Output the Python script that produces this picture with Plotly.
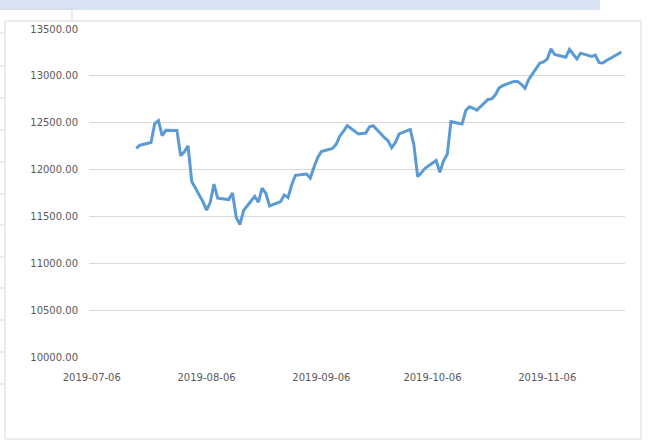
import plotly.graph_objects as go

# ---- data ----
dates = [
    "2019-07-18", "2019-07-19", "2019-07-22", "2019-07-23", "2019-07-24", "2019-07-25", "2019-07-26",
    "2019-07-29", "2019-07-30", "2019-07-31",
    "2019-08-01", "2019-08-02", "2019-08-05", "2019-08-06", "2019-08-07", "2019-08-08", "2019-08-09",
    "2019-08-12", "2019-08-13", "2019-08-14", "2019-08-15", "2019-08-16", "2019-08-19", "2019-08-20",
    "2019-08-21", "2019-08-22", "2019-08-23", "2019-08-26", "2019-08-27", "2019-08-28", "2019-08-29",
    "2019-08-30",
    "2019-09-02", "2019-09-03", "2019-09-04", "2019-09-05", "2019-09-06", "2019-09-09", "2019-09-10",
    "2019-09-11", "2019-09-12", "2019-09-13", "2019-09-16", "2019-09-17", "2019-09-18", "2019-09-19",
    "2019-09-20", "2019-09-23", "2019-09-24", "2019-09-25", "2019-09-26", "2019-09-27", "2019-09-30",
    "2019-10-01", "2019-10-02", "2019-10-03", "2019-10-04", "2019-10-07", "2019-10-08", "2019-10-09",
    "2019-10-10", "2019-10-11", "2019-10-14", "2019-10-15", "2019-10-16", "2019-10-17", "2019-10-18",
    "2019-10-21", "2019-10-22", "2019-10-23", "2019-10-24", "2019-10-25", "2019-10-28", "2019-10-29",
    "2019-10-30", "2019-10-31",
    "2019-11-01", "2019-11-04", "2019-11-05", "2019-11-06", "2019-11-07", "2019-11-08", "2019-11-11",
    "2019-11-12", "2019-11-13", "2019-11-14", "2019-11-15", "2019-11-18", "2019-11-19", "2019-11-20",
    "2019-11-21", "2019-11-22", "2019-11-25", "2019-11-26",
]
values = [
    12227, 12260, 12289, 12490, 12522, 12362, 12419,
    12418, 12147, 12189,
    12253, 11872, 11658, 11568, 11650, 11845, 11694,
    11680, 11750, 11492, 11412, 11563, 11715, 11652,
    11802, 11747, 11612, 11658, 11730, 11701, 11838,
    11939,
    11953, 11910, 12025, 12126, 12192, 12226, 12269,
    12359, 12410, 12469, 12381, 12389, 12390, 12457,
    12468, 12342, 12307, 12234, 12289, 12381, 12428,
    12263, 11925, 11965, 12013, 12097, 11970, 12094,
    12164, 12511, 12486, 12630, 12670, 12654, 12634,
    12748, 12754, 12798, 12872, 12895, 12941, 12939,
    12910, 12867,
    12961, 13136, 13148, 13179, 13289, 13228, 13198,
    13283, 13230, 13180, 13242, 13208, 13221, 13141,
    13138, 13164, 13230, 13255,
]
x_tick_vals = ["2019-07-06", "2019-08-06", "2019-09-06", "2019-10-06", "2019-11-06"]
x_tick_text = ["2019-07-06", "2019-08-06", "2019-09-06", "2019-10-06", "2019-11-06"]
y_tick_vals = [10000, 10500, 11000, 11500, 12000, 12500, 13000, 13500]

# ---- layout geometry (pixels) ----
W, H = 649, 443
L, R, T, B = 89, 24, 29, 86
PW, PH = W - L - R, H - T - B


def px(xp):
    return (xp - L) / PW


def py(yp):
    return (H - B - yp) / PH


fig = go.Figure()
fig.add_trace(go.Scatter(
    x=dates, y=values, mode="lines",
    line=dict(color="#5b9bd5", width=3),
    hoverinfo="skip", showlegend=False,
))

shapes = []
# light blue band at top of the screenshot
shapes.append(dict(type="rect", xref="paper", yref="paper",
                   x0=px(0), x1=px(600), y0=py(0), y1=py(10),
                   fillcolor="#d7e3f2", line=dict(width=0), layer="below"))
# chart behind (left) border
shapes.append(dict(type="line", xref="paper", yref="paper",
                   x0=px(0), x1=px(72), y0=py(9), y1=py(9),
                   line=dict(color="#d9d9d9", width=1), layer="below"))
shapes.append(dict(type="line", xref="paper", yref="paper",
                   x0=px(72), x1=px(72), y0=py(9), y1=py(21),
                   line=dict(color="#d9d9d9", width=1), layer="below"))
for yy in [33, 66, 98, 130, 162, 194, 225, 257, 288, 320, 352, 384]:
    shapes.append(dict(type="line", xref="paper", yref="paper",
                       x0=px(0), x1=px(5), y0=py(yy), y1=py(yy),
                       line=dict(color="#d9d9d9", width=1), layer="below"))
# main chart frame
shapes.append(dict(type="rect", xref="paper", yref="paper",
                   x0=px(5), x1=px(641), y0=py(439), y1=py(21),
                   line=dict(color="#d9d9d9", width=1), fillcolor="rgba(0,0,0,0)",
                   layer="below"))

fig.update_layout(
    width=W, height=H,
    margin=dict(l=L, r=R, t=T, b=B, pad=0),
    paper_bgcolor="white",
    plot_bgcolor="rgba(0,0,0,0)",
    font=dict(family="DejaVu Sans, Verdana, sans-serif", size=10, color="#595959"),
    shapes=shapes,
    showlegend=False,
)
fig.update_xaxes(
    type="date",
    range=["2019-07-05 06:00", "2019-11-27 00:00"],
    tickmode="array", tickvals=x_tick_vals, ticktext=x_tick_text,
    showgrid=False, zeroline=False, showline=False, ticks="",
    ticklabelstandoff=13,
    tickfont=dict(size=10, color="#595959"),
)
fig.update_yaxes(
    range=[10000, 13500],
    tickmode="array", tickvals=y_tick_vals, tickformat=".2f",
    showgrid=True, gridcolor="#d9d9d9", gridwidth=1,
    zeroline=False, showline=False, ticks="",
    ticklabelstandoff=10,
    tickfont=dict(size=10, color="#595959"),
)

fig.write_html("out.html", config={"displayModeBar": False},
               post_script="document.body.style.margin='0';")
